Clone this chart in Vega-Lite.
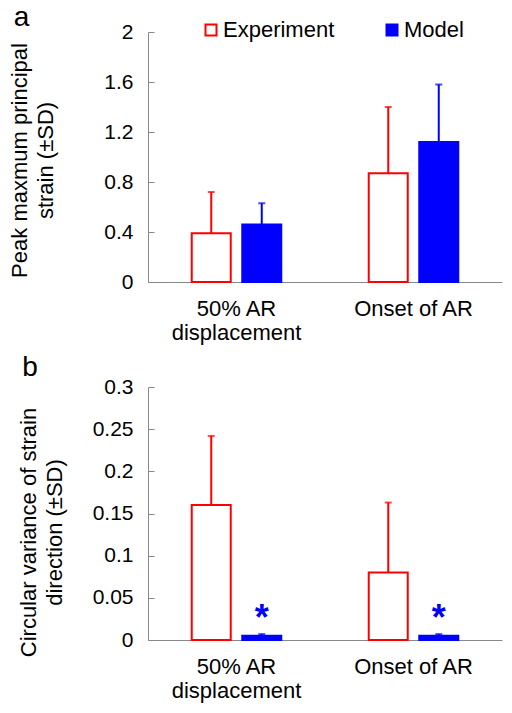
{
  "$schema": "https://vega.github.io/schema/vega-lite/v6.json",
  "padding": {"left": 8, "top": 4, "right": 5, "bottom": 5},
  "config": {
    "font": "Liberation Sans",
    "view": {"stroke": null},
    "axis": {"grid": false, "domainColor": "#888888", "tickColor": "#888888", "labelColor": "#000000", "titleColor": "#000000", "labelFont": "Liberation Sans", "titleFont": "Liberation Sans", "titleFontWeight": "normal"},
    "legend": {"labelFont": "Liberation Sans", "labelFontSize": 22, "labelColor": "#000000", "symbolType": "square", "symbolSize": 121, "symbolStrokeWidth": 2, "labelOffset": 1, "columnPadding": 46},
    "title": {"font": "Liberation Sans", "fontSize": 28, "fontWeight": "normal", "color": "#000000"},
    "concat": {"spacing": 11}
  },
  "vconcat": [
    {
      "width": 354,
      "height": 250,
      "title": {"text": "a", "anchor": "start", "frame": "bounds", "offset": -11, "dx": 5},
      "data": {"values": [
        {"condition": "50% AR displacement", "source": "Experiment", "mean": 0.39, "upper": 0.72},
        {"condition": "50% AR displacement", "source": "Model", "mean": 0.46, "upper": 0.63},
        {"condition": "Onset of AR", "source": "Experiment", "mean": 0.87, "upper": 1.40},
        {"condition": "Onset of AR", "source": "Model", "mean": 1.12, "upper": 1.58}
      ]},
      "encoding": {
        "x": {"field": "condition", "type": "nominal", "sort": ["50% AR displacement", "Onset of AR"], "scale": {"paddingInner": 0, "paddingOuter": 0},
          "axis": {"title": null, "labelAngle": 0, "ticks": false, "labelFontSize": 22, "labelPadding": 16, "labelLineHeight": 24, "labelExpr": "datum.label == '50% AR displacement' ? ['50% AR', 'displacement'] : datum.label"}},
        "xOffset": {"field": "source", "type": "nominal", "sort": ["Experiment", "Model"], "scale": {"paddingInner": 0.228, "paddingOuter": 0.866}}
      },
      "layer": [
        {
          "mark": {"type": "bar", "strokeWidth": 2},
          "encoding": {
            "y": {"field": "mean", "type": "quantitative", "scale": {"domain": [0, 2], "nice": false},
              "title": ["Peak maxmum principal", "strain (±SD)"],
              "axis": {"values": [0, 0.4, 0.8, 1.2, 1.6, 2], "format": "~g", "tickSize": -6, "labelFontSize": 21, "labelPadding": 21, "titleFontSize": 22, "titleLineHeight": 26, "titlePadding": 46, "titleY": 128}},
            "fill": {"field": "source", "type": "nominal", "scale": {"domain": ["Experiment", "Model"], "range": ["#ffffff", "#0000ff"]},
              "legend": {"title": null, "orient": "none", "direction": "horizontal", "legendX": 52, "legendY": -13}},
            "stroke": {"field": "source", "type": "nominal", "scale": {"domain": ["Experiment", "Model"], "range": ["#ff0000", "#0000ff"]},
              "legend": {"title": null, "orient": "none", "direction": "horizontal", "legendX": 52, "legendY": -13}}
          }
        },
        {
          "mark": {"type": "rule", "strokeWidth": 2},
          "encoding": {
            "y": {"field": "mean", "type": "quantitative"},
            "y2": {"field": "upper"},
            "color": {"field": "source", "type": "nominal", "scale": {"domain": ["Experiment", "Model"], "range": ["#ff0000", "#0000ff"]}, "legend": null}
          }
        },
        {
          "mark": {"type": "tick", "thickness": 2, "size": 7},
          "encoding": {
            "y": {"field": "upper", "type": "quantitative"},
            "color": {"field": "source", "type": "nominal", "scale": {"domain": ["Experiment", "Model"], "range": ["#ff0000", "#0000ff"]}, "legend": null}
          }
        }
      ]
    },
    {
      "width": 354,
      "height": 253,
      "title": {"text": "b", "anchor": "start", "frame": "bounds", "offset": -6, "dx": 5},
      "data": {"values": [
        {"condition": "50% AR displacement", "source": "Experiment", "mean": 0.160, "upper": 0.242, "sig": ""},
        {"condition": "50% AR displacement", "source": "Model", "mean": 0.005, "upper": 0.007, "sig": "*"},
        {"condition": "Onset of AR", "source": "Experiment", "mean": 0.080, "upper": 0.163, "sig": ""},
        {"condition": "Onset of AR", "source": "Model", "mean": 0.005, "upper": 0.007, "sig": "*"}
      ]},
      "encoding": {
        "x": {"field": "condition", "type": "nominal", "sort": ["50% AR displacement", "Onset of AR"], "scale": {"paddingInner": 0, "paddingOuter": 0},
          "axis": {"title": null, "labelAngle": 0, "ticks": false, "labelFontSize": 22, "labelPadding": 16, "labelLineHeight": 24, "labelExpr": "datum.label == '50% AR displacement' ? ['50% AR', 'displacement'] : datum.label"}},
        "xOffset": {"field": "source", "type": "nominal", "sort": ["Experiment", "Model"], "scale": {"paddingInner": 0.228, "paddingOuter": 0.866}}
      },
      "layer": [
        {
          "mark": {"type": "bar", "strokeWidth": 2},
          "encoding": {
            "y": {"field": "mean", "type": "quantitative", "scale": {"domain": [0, 0.3], "nice": false},
              "title": ["Circular variance of strain", "direction (±SD)"],
              "axis": {"values": [0, 0.05, 0.1, 0.15, 0.2, 0.25, 0.3], "format": "~g", "tickSize": -6, "labelFontSize": 21, "labelPadding": 21, "titleFontSize": 22, "titleLineHeight": 26, "titlePadding": 26, "titleY": 145}},
            "fill": {"field": "source", "type": "nominal", "scale": {"domain": ["Experiment", "Model"], "range": ["#ffffff", "#0000ff"]},
              "legend": {"title": null, "orient": "none", "direction": "horizontal", "legendX": 56, "legendY": -4}},
            "stroke": {"field": "source", "type": "nominal", "scale": {"domain": ["Experiment", "Model"], "range": ["#ff0000", "#0000ff"]},
              "legend": {"title": null, "orient": "none", "direction": "horizontal", "legendX": 56, "legendY": -4}}
          }
        },
        {
          "mark": {"type": "rule", "strokeWidth": 2},
          "encoding": {
            "y": {"field": "mean", "type": "quantitative"},
            "y2": {"field": "upper"},
            "color": {"field": "source", "type": "nominal", "scale": {"domain": ["Experiment", "Model"], "range": ["#ff0000", "#0000ff"]}, "legend": null}
          }
        },
        {
          "mark": {"type": "tick", "thickness": 2, "size": 7},
          "encoding": {
            "y": {"field": "upper", "type": "quantitative"},
            "color": {"field": "source", "type": "nominal", "scale": {"domain": ["Experiment", "Model"], "range": ["#ff0000", "#0000ff"]}, "legend": null}
          }
        },
        {
          "mark": {"type": "text", "fontSize": 36, "fontWeight": "bold", "color": "#0000ff", "baseline": "middle", "dy": -15},
          "encoding": {
            "y": {"field": "upper", "type": "quantitative"},
            "text": {"field": "sig"}
          }
        }
      ]
    }
  ]
}
